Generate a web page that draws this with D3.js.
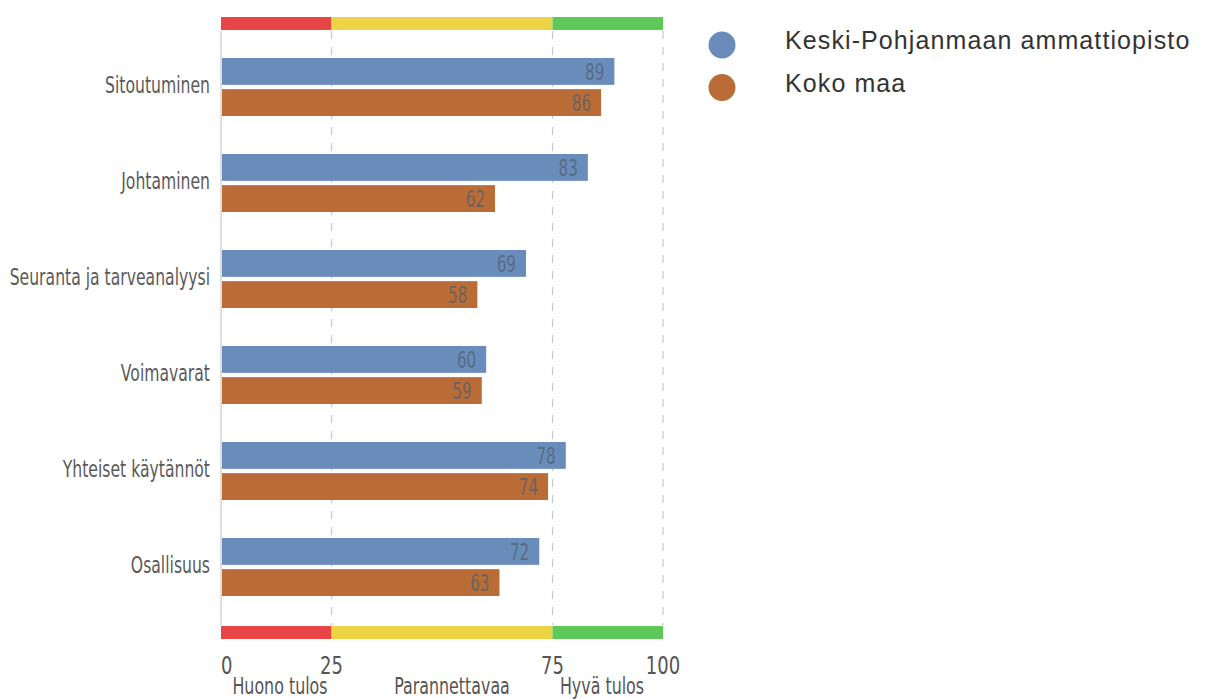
<!DOCTYPE html>
<html><head><meta charset="utf-8">
<script src="https://cdn.jsdelivr.net/npm/d3@7/dist/d3.min.js"></script>
<style>body{margin:0;background:#fff;} svg{display:block;} .cond{font-family:'DejaVu Sans',sans-serif;}</style>
</head><body>
<svg id="chart" width="1209" height="699"></svg>
<script>
const categories = ["Sitoutuminen","Johtaminen","Seuranta ja tarveanalyysi","Voimavarat","Yhteiset käytännöt","Osallisuus"];
const seriesNames = ["Keski-Pohjanmaan ammattiopisto","Koko maa"];
const schoolValues = [89,83,69,60,78,72];
const nationalValues = [86,62,58,59,74,63];
const tickValues = [0,25,75,100];
const zones = [{from:0,to:25,label:"Huono tulos"},{from:25,to:75,label:"Parannettavaa"},{from:75,to:100,label:"Hyvä tulos"}];
const colors = ["#6a8cbb","#b96c36"];
const zoneColors = ["#e84646","#ecd444","#5fc85b"];

const svg = d3.select("#chart");
const x = d3.scaleLinear().domain([0,100]).range([221,663]);
const y = d3.scaleBand().domain(categories).range([38,614]);
const sub = d3.scaleBand().domain([0,1]).range([20,78]).paddingInner(0.138);

svg.append("g").selectAll("line").data(tickValues).join("line")
  .attr("x1",d=>x(d)).attr("x2",d=>x(d)).attr("y1",31).attr("y2",625)
  .attr("stroke","#c8c8c8").attr("stroke-width",1.2)
  .attr("stroke-dasharray",d=>d===0?null:"8,8");

[17,626].forEach(yy=>{
  svg.append("g").selectAll("rect").data(zones).join("rect")
    .attr("x",d=>x(d.from)).attr("width",d=>x(d.to)-x(d.from))
    .attr("y",yy).attr("height",13)
    .attr("fill",(d,i)=>zoneColors[i]);
});

const data = categories.map((c,i)=>({c,vals:[schoolValues[i],nationalValues[i]]}));
const g = svg.append("g").selectAll("g").data(data).join("g")
  .attr("transform",d=>`translate(0,${y(d.c)})`);
g.selectAll("rect").data(d=>d.vals).join("rect")
  .attr("x",x(0)+1).attr("y",(d,i)=>sub(i)).attr("height",sub.bandwidth())
  .attr("width",d=>x(d)-x(0)-1).attr("fill",(d,i)=>colors[i]);
g.selectAll("text").data(d=>d.vals).join("text").attr("class","cond")
  .attr("transform",(d,i)=>`translate(${x(d)-10},${sub(i)+sub.bandwidth()/2+8.5}) scale(0.66,1)`)
  .attr("text-anchor","end").attr("font-size",23)
  .attr("fill","#4f5f70").attr("fill-opacity",0.72).text(d=>d);

svg.append("g").selectAll("text").data(categories).join("text").attr("class","cond")
  .attr("transform",d=>`translate(210,${y(d)+55}) scale(0.68,1)`)
  .attr("text-anchor","end").attr("font-size",23)
  .attr("fill","#5a5a5a").text(d=>d);

const tickAnchor = {0:"start",25:"middle",75:"middle",100:"middle"};
svg.append("g").selectAll("text").data(tickValues).join("text").attr("class","cond")
  .attr("transform",d=>`translate(${x(d)},674) scale(0.72,1)`)
  .attr("text-anchor",d=>tickAnchor[d]).attr("font-size",25)
  .attr("fill","#555").text(d=>d);

const zoneX = [280,452,602];
svg.append("g").selectAll("text").data(zones).join("text").attr("class","cond")
  .attr("transform",(d,i)=>`translate(${zoneX[i]},694) scale(0.69,1)`)
  .attr("text-anchor","middle").attr("font-size",23)
  .attr("fill","#555").text(d=>d.label);

const leg = svg.append("g").selectAll("g").data(seriesNames).join("g")
  .attr("transform",(d,i)=>`translate(722,${45+i*42.5})`);
leg.append("circle").attr("r",13.5).attr("fill",(d,i)=>colors[i]);
leg.append("text").attr("x",63).attr("y",4)
  .attr("font-family","'Liberation Sans',Arial,sans-serif").attr("font-size",25)
  .attr("letter-spacing",1.1).attr("fill","#333").text(d=>d);
</script>
</body></html>
